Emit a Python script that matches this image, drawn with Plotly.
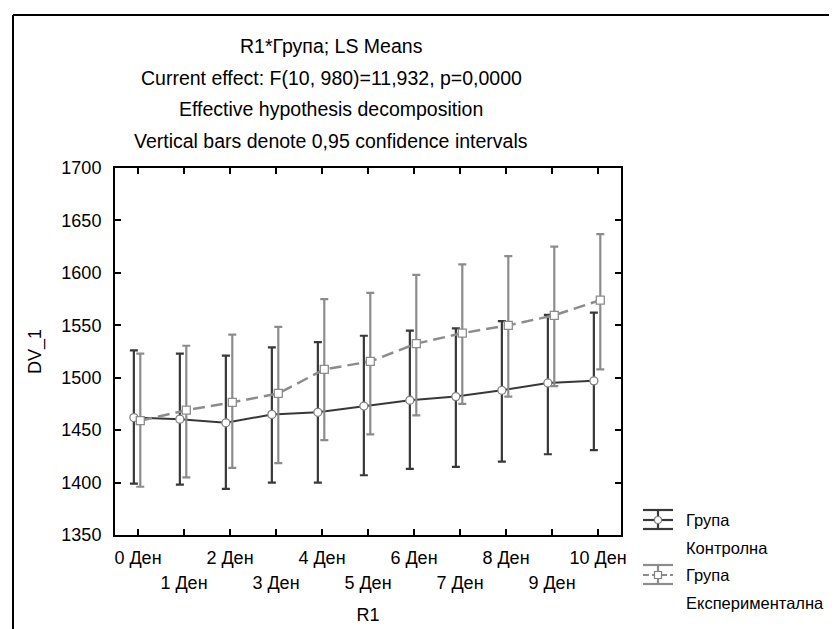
import plotly.graph_objects as go

# ---- data ----
days = ["0 Ден", "1 Ден", "2 Ден", "3 Ден", "4 Ден", "5 Ден", "6 Ден", "7 Ден", "8 Ден", "9 Ден", "10 Ден"]
control_mean = [1462, 1460.5, 1457, 1465, 1467, 1473, 1478.5, 1482, 1488, 1495, 1497]
control_upper = [1526, 1523, 1521, 1529, 1534, 1540, 1545, 1547, 1554, 1560, 1562]
control_lower = [1399, 1398, 1394, 1400, 1400, 1407, 1413, 1415, 1420, 1427, 1431]
exp_mean = [1459, 1469, 1476.5, 1485, 1508, 1515.5, 1532.5, 1542.5, 1550, 1559.5, 1574]
exp_upper = [1523, 1530.5, 1541, 1548.5, 1575, 1581, 1598, 1608, 1616, 1625, 1637]
exp_lower = [1396, 1405, 1414, 1418.5, 1440.5, 1446, 1464, 1475, 1482, 1492, 1508]
series_names = ["Група<br>Контролна", "Група<br>Експериментална"]
title_lines = [
    "R1*Група; LS Means",
    "Current effect: F(10, 980)=11,932, p=0,0000",
    "Effective hypothesis decomposition",
    "Vertical bars denote 0,95 confidence intervals",
]
y_ticks = [1350, 1400, 1450, 1500, 1550, 1600, 1650, 1700]

FONT = "Arial, Liberation Sans, sans-serif"
FS = 18
FS_TITLE = 19.5
FS_LEG = 16.5
C_CTRL = "#383838"
C_EXP = "#8c8c8c"

idx = list(range(len(days)))
x_ctrl = [i - 0.09 for i in idx]
x_exp = [i + 0.05 for i in idx]

fig = go.Figure()
fig.add_trace(go.Scatter(
    x=x_ctrl, y=control_mean, name=series_names[0], mode="lines+markers",
    line=dict(color=C_CTRL, width=2),
    marker=dict(symbol="circle", size=8, color="white", line=dict(color="#808080", width=1.3)),
    error_y=dict(type="data", symmetric=False,
                 array=[u - m for u, m in zip(control_upper, control_mean)],
                 arrayminus=[m - l for m, l in zip(control_mean, control_lower)],
                 color=C_CTRL, thickness=2.2, width=4),
    showlegend=False,
))
fig.add_trace(go.Scatter(
    x=x_exp, y=exp_mean, name=series_names[1], mode="lines+markers", xaxis="x2",
    line=dict(color=C_EXP, width=2.5, dash="12px,6px"),
    marker=dict(symbol="square", size=8, color="white", line=dict(color="#8c8c8c", width=1.3)),
    error_y=dict(type="data", symmetric=False,
                 array=[u - m for u, m in zip(exp_upper, exp_mean)],
                 arrayminus=[m - l for m, l in zip(exp_mean, exp_lower)],
                 color=C_EXP, thickness=2.2, width=4),
    showlegend=False,
))

W, H = 837, 629
L, R, T, B = 107, 613, 160, 527

def px(x):
    return (x - L) / (R - L)

def py(y):
    return (B - y) / (B - T)

annotations = []
for yy, txt in zip([38, 70, 101, 133], title_lines):
    annotations.append(dict(text=txt, x=px(323), y=py(yy), xref="paper", yref="paper",
                            xanchor="center", yanchor="middle", showarrow=False,
                            font=dict(family=FONT, size=FS_TITLE, color="black")))

# legend text
leg_text = ["Група", "Контролна", "Група", "Експериментална"]
for yy, txt in zip([512, 540, 567, 595], leg_text):
    annotations.append(dict(text=txt, x=px(676), y=py(yy), xref="paper", yref="paper",
                            xanchor="left", yanchor="middle", showarrow=False,
                            font=dict(family=FONT, size=FS_LEG, color="black")))

shapes = []
# outer frame
for x0, y0, x1, y1 in [(5, 7, 835.5, 7), (5, 7, 5, 629), (835.5, 7, 835.5, 460)]:
    shapes.append(dict(type="line", xref="paper", yref="paper", x0=px(x0), y0=py(y0),
                       x1=px(x1), y1=py(y1), line=dict(color="black", width=2)))

# legend symbols
def legend_symbol(yc, color, marker, dash):
    xl, xr, xc = 635, 665, 650
    out = []
    for yy in (yc - 10, yc + 9):
        out.append(dict(type="line", xref="paper", yref="paper", x0=px(xl), x1=px(xr),
                        y0=py(yy), y1=py(yy), line=dict(color=color, width=2.2)))
    out.append(dict(type="line", xref="paper", yref="paper", x0=px(xl), x1=px(xr),
                    y0=py(yc), y1=py(yc), line=dict(color=color, width=2.2, dash=dash)))
    out.append(dict(type="line", xref="paper", yref="paper", x0=px(xc), x1=px(xc),
                    y0=py(yc - 10), y1=py(yc + 9), line=dict(color=color, width=2.2)))
    r = 3.5
    out.append(dict(type=marker, xref="paper", yref="paper", x0=px(xc - r), x1=px(xc + r),
                    y0=py(yc - r), y1=py(yc + r), fillcolor="white",
                    line=dict(color="#808080", width=1.2)))
    return out

shapes += legend_symbol(512, C_CTRL, "circle", "solid")
shapes += legend_symbol(567, C_EXP, "rect", "6px,3px")

even_text = [d if i % 2 == 0 else "" for i, d in enumerate(days)]
odd_vals = [i for i in idx if i % 2 == 1]
odd_text = [days[i] for i in odd_vals]

fig.update_layout(
    width=W, height=H,
    margin=dict(l=L, r=W - R, t=T, b=H - B, pad=0),
    paper_bgcolor="white", plot_bgcolor="white",
    font=dict(family=FONT, size=FS, color="black"),
    showlegend=False,
    xaxis=dict(range=[-0.5, 10.5], tickvals=idx, ticktext=even_text,
               ticks="inside", ticklen=6, tickwidth=1.5, tickcolor="black",
               showline=True, linewidth=2, linecolor="black", mirror="ticks",
               showgrid=False, zeroline=False, automargin=False,
               ticklabelstandoff=5, tickfont=dict(family=FONT, size=FS)),
    xaxis2=dict(overlaying="x", matches="x", anchor="y", side="bottom",
                tickvals=odd_vals, ticktext=odd_text, ticks="", showline=False,
                showgrid=False, zeroline=False, automargin=False,
                ticklabelstandoff=35, tickfont=dict(family=FONT, size=FS),
                title=dict(text="R1", standoff=16, font=dict(family=FONT, size=FS))),
    yaxis=dict(range=[1350, 1700], tickvals=y_ticks,
               ticks="inside", ticklen=6, tickwidth=1.5, tickcolor="black",
               showline=True, linewidth=2, linecolor="black", mirror="ticks",
               showgrid=False, zeroline=False, automargin=False,
               ticklabelstandoff=8, tickfont=dict(family=FONT, size=FS),
               title=dict(text="DV_1", standoff=15, font=dict(family=FONT, size=FS))),
    annotations=annotations,
    shapes=shapes,
)

fig.write_html("out.html")
